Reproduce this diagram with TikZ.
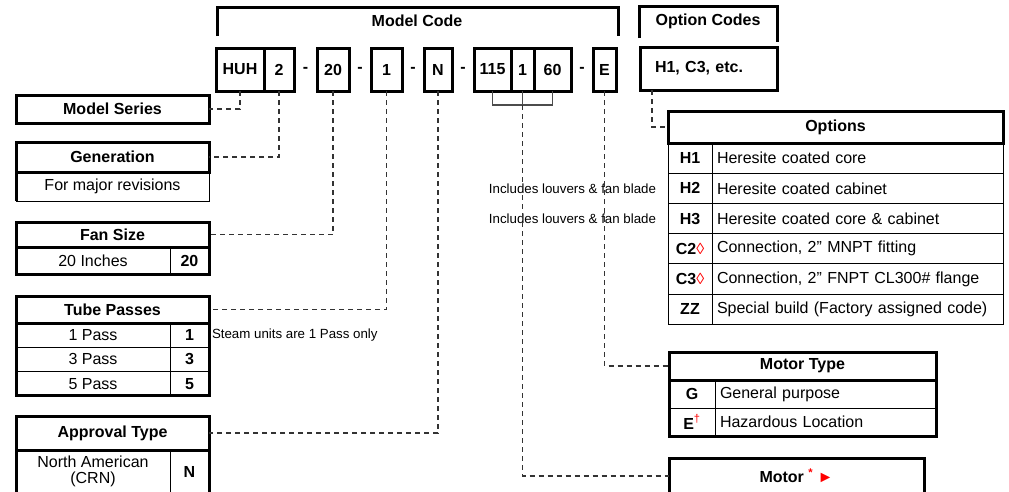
\documentclass[tikz,border=0pt]{standalone}
\usepackage{fontspec}
\setmainfont{Liberation Sans}
\newcommand{\redlz}{\textcolor{red}{\mdseries ◊}}
\newcommand{\reddg}{\textsuperscript{\textcolor{red}{\mdseries †}}}
\begin{document}
\begin{tikzpicture}[x=1pt, y=-1pt, inner sep=0pt, outer sep=0pt]
  \tikzstyle{txt}=[font=\fontsize{16}{16.5}\selectfont]
  \tikzstyle{btxt}=[font=\fontsize{16}{16.5}\selectfont\bfseries]
  \tikzstyle{box}=[draw, line width=3pt, anchor=north west, btxt]
  \tikzstyle{cell}=[draw, line width=1pt, anchor=north west]
  \tikzstyle{codecell}=[cell, btxt]
  \tikzstyle{outline}=[line width=3pt]
  \tikzstyle{link}=[draw=black!80, line width=1.5pt, dash pattern=on 5pt off 4pt]
  \tikzstyle{brk}=[draw=black!70, line width=1.5pt]
  \tikzstyle{note}=[font=\fontsize{13.3}{15}\selectfont]

  \useasboundingbox (0,0) rectangle (1009,491);

  % model code
  \draw[outline] (217,36) |- (618,7) -- (618,36);
  \node[btxt] (mcode) at (417,21) {Model Code};
  \foreach \name/\x/\w/\txt in {1/216/48/HUH, 2/264/30/2, 3/317/32/20, 4/371/31/1, 5/424/28/N, 6/474/37/115, 7/511/23/1, 8/534/37/60, 9/593/23/E}
    \node[box, minimum width=\w pt, minimum height=43pt] (c-\name) at (\x,48) {\txt};
  \foreach \x [count=\i] in {305.5,360,413,463,582}
    \node[btxt] (dash-\i) at (\x,70) {-};

  % option codes
  \draw[outline] (639,38) |- (777,6) -- (777,42);
  \node[btxt] (ocode) at (708,21) {Option Codes};
  \node[box, minimum height=43pt, text width=107pt, align=left, inner xsep=15pt] (opt) at (640,47) {H1, C3, etc.};

  \foreach \code/\desc [count=\i] in {H1/Heresite coated core, H2/Heresite coated cabinet, H3/Heresite coated core \& cabinet, C2\redlz/{Connection, 2” MNPT fitting}, C3\redlz/{Connection, 2” FNPT CL300\# flange}, ZZ/Special build (Factory assigned code)} {
    \node[codecell, minimum width=44pt, minimum height=30.2pt] (oc-\i) at (668,{143+30.2*(\i-1)}) {\code};
    \node[cell, txt, minimum height=30.2pt, text width=281pt, inner xsep=5pt, align=left] (od-\i) at (712,{143+30.2*(\i-1)}) {\desc};
  }
  \node[box, minimum width=335pt, minimum height=32pt] (options) at (668,111) {Options};
  \node[note, anchor=east, xshift=-12pt] (note-1) at (oc-2.west) {Includes louvers \& fan blade};
  \node[note, anchor=east, xshift=-12pt] (note-2) at (oc-3.west) {Includes louvers \& fan blade};

  % motor
  \node[box, minimum width=267pt, minimum height=28pt] (mtype) at (669,352) {Motor Type};
  \foreach \code/\desc [count=\i] in {G/General purpose, E\reddg/Hazardous Location} {
    \node[codecell, minimum width=46pt, minimum height=28pt] (mc-\i) at (669,{380+28*(\i-1)}) {\code};
    \node[cell, txt, minimum height=28pt, text width=211pt, inner xsep=5pt, align=left] (md-\i) at (715,{380+28*(\i-1)}) {\desc};
  }
  \draw[outline] (mtype.north west) rectangle (md-2.south east);
  \node[box, minimum width=255pt, minimum height=36pt] (motor) at (669,458) {Motor \textcolor{red}{\textsuperscript{*} ►}};

  % left side tables
  \node[box, minimum width=193pt, minimum height=28pt] (series) at (16,95) {Model Series};

  \node[box, minimum width=193pt, minimum height=30pt] (gen) at (16,142) {Generation};
  \node[cell, txt, minimum width=193pt, minimum height=29pt] (gen-1) at (16,172) {For major revisions};
  \draw[outline] (gen.south west) -- (gen-1.south west);

  \node[box, minimum width=193pt, minimum height=25pt] (fan) at (16,222) {Fan Size};
  \node[cell, txt, minimum width=154pt, minimum height=27pt] (fan-1) at (16,247) {20 Inches};
  \node[codecell, minimum width=39pt, minimum height=27pt] (fanc-1) at (170,247) {20};
  \draw[outline] (fan.north west) rectangle (fanc-1.south east);

  \node[box, minimum width=193pt, minimum height=27pt] (tube) at (16,296) {Tube Passes};
  \foreach \n [count=\i] in {1,3,5} {
    \node[cell, txt, minimum width=154pt, minimum height=24.3pt] (tube-\i) at (16,{323+24.3*(\i-1)}) {\n\ Pass};
    \node[codecell, minimum width=39pt, minimum height=24.3pt] (tubec-\i) at (170,{323+24.3*(\i-1)}) {\n};
  }
  \draw[outline] (tube.north west) rectangle (tubec-3.south east);
  \node[note, anchor=west, xshift=3pt] (note-3) at (tubec-1.east) {Steam units are 1 Pass only};

  \node[box, minimum width=193pt, minimum height=34pt] (appr) at (16,416) {Approval Type};
  \node[cell, txt, minimum width=154pt, minimum height=43pt, align=center] (appr-1) at (16,450) {North American\\(CRN)};
  \node[codecell, minimum width=39pt, minimum height=43pt] (apprc-1) at (170,450) {N};
  \draw[outline] (appr.north west) rectangle (apprc-1.south east);

  % connectors
  \draw[link] (c-1.south) |- (series.east);
  \draw[link] (c-2.south) |- (gen.east);
  \draw[link] (c-3.south) |- (fan.east);
  \draw[link] (c-4.south) |- (tube.east);
  \draw[link] (c-5.south) |- (appr.east);
  \draw[brk] (c-6.south) -- ++(0,14) -| (c-8.south);
  \draw[brk] (c-7.south) -- ++(0,14) coordinate (split);
  \draw[link] (split) |- (motor.west);
  \draw[link] (c-9.south) |- (mtype.west);
  \draw[link] (opt.south west) ++(12,0) |- (options.west);
\end{tikzpicture}
\end{document}
